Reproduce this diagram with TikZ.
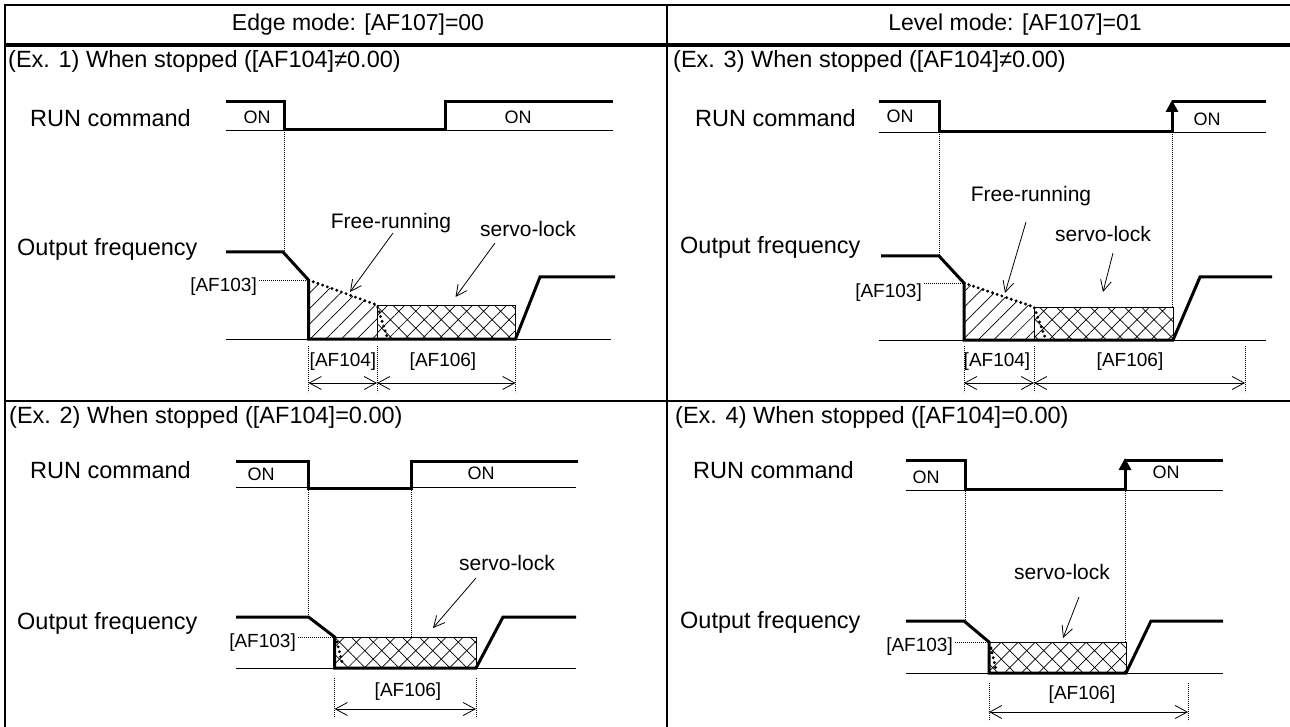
\documentclass[tikz,border=0pt]{standalone}
\usepackage{fontspec}
\setmainfont{Liberation Sans}
\usetikzlibrary{arrows.meta,patterns.meta}
\tikzset{
 lab/.style={font=\fontsize{23.5}{28}\selectfont, inner sep=0pt},
 head/.style={font=\fontsize{23}{27}\selectfont, inner sep=0pt},
 small/.style={font=\fontsize{19}{22}\selectfont, inner sep=0pt},
 onl/.style={font=\fontsize{18}{22}\selectfont, inner sep=0pt},
 mid/.style={font=\fontsize{21}{24}\selectfont, inner sep=0pt},
 sig/.style={line width=3pt, miter limit=4},
 base/.style={line width=0.9pt},
 guide/.style={line width=0.6pt, dash pattern=on 0.8pt off 1.2pt},
 free/.style={line width=3.2pt, dash pattern=on 0pt off 5pt, line cap=round},
 ptr/.style={line width=0.8pt, -{Straight Barb[length=11pt,width=11pt,line width=0.8pt]}},
 dim/.style={line width=0.8pt, {Straight Barb[length=12pt,width=13pt,line width=0.8pt]}-{Straight Barb[length=12pt,width=13pt,line width=0.8pt]}},
 hatchA/.style={pattern={Lines[angle=45,distance=11pt,line width=0.7pt]}},
 hatchX/.style={pattern={Hatch[angle=45,distance=12pt,line width=0.7pt]}},
 up/.style={line width=3pt, -{Triangle[length=12pt,width=12pt]}},
}
\begin{document}
\begin{tikzpicture}[x=1pt,y=-1pt]
\useasboundingbox (0,0) rectangle (1290,727);
% ---------- grid ----------
\draw[line width=2pt] (5,730) -- (5,5) -- (1295,5);
\draw[line width=4pt] (5,45.5) -- (1295,45.5);
\draw[line width=2pt] (667,5) -- (667,730);
\draw[line width=2pt] (5,401) -- (1295,401);
\node[head] (h1) at (358,25) {Edge mode: [AF107]=00};
\node[head] (h2) at (1015,25) {Level mode: [AF107]=01};

% ================= Ex.1 =================
\node[lab,anchor=base west] (t1) at (8,68) {(Ex. 1) When stopped ([AF104]≠0.00)};
\node[lab,anchor=base west] (r1) at (30,127) {RUN command};
\draw[base] (226,130) -- (613,130);
\draw[sig] (226,102) -- (284,102) -- (284,130) -- (445,130) -- (445,102) -- (613,102);
\node[onl] (on1a) at (257,117) {ON};
\node[onl] (on1b) at (518,117) {ON};
\draw[guide] (284,130) -- (284,252);
\node[lab,anchor=base west] (o1) at (17,256) {Output frequency};
\draw[base] (226,339) -- (611,339);
\path[hatchA] (308.5,280) -- (377,305) -- (377,339) -- (308.5,339) -- cycle;
\draw[base,hatchX] (377,305) rectangle (515.5,339);
\draw[free] (308.5,280) -- (377,305) -- (387,337);
\draw[sig] (226,252) -- (283,252) -- (308.5,280) -- (308.5,339) -- (515.5,339) -- (540,277) -- (615,277);
\node[small,anchor=east] (a1) at (257,287) {[AF103]};
\draw[guide] (259,280) -- (308.5,280);
\node[mid] (fr1) at (391,223) {Free-running};
\node[mid] (sv1) at (528,229) {servo-lock};
\draw[ptr] (393,233) -- (350,292);
\draw[ptr] (495,243) -- (455.5,297);
\draw[guide] (308.5,346) -- (308.5,392);
\draw[guide] (377,346) -- (377,392);
\draw[guide] (515.5,346) -- (515.5,392);
\node[small] (d1a) at (343,362) {[AF104]};
\node[small] (d1b) at (443,362) {[AF106]};
\draw[dim] (308.5,383) -- (377,383);
\draw[dim] (377,383) -- (515.5,383);

% ================= Ex.3 =================
\node[lab,anchor=base west] (t3) at (673,68) {(Ex. 3) When stopped ([AF104]≠0.00)};
\node[lab,anchor=base west] (r3) at (695,127) {RUN command};
\draw[base] (879,132) -- (1266,132);
\draw[sig] (879,102) -- (939,102) -- (939,132) -- (1172,132) -- (1172,118);
\draw[up] (1172,121) -- (1172,100);
\draw[sig] (1172,102) -- (1266,102);
\node[onl] (on3a) at (900,116) {ON};
\node[onl] (on3b) at (1207,119) {ON};
\draw[guide] (939,132) -- (939,256);
\draw[guide] (1172,132) -- (1172,307);
\node[lab,anchor=base west] (o3) at (680,254) {Output frequency};
\draw[base] (879,340) -- (1266,340);
\path[hatchA] (964,283) -- (1034,307) -- (1034,340) -- (964,340) -- cycle;
\draw[base,hatchX] (1034,307) rectangle (1173,340);
\draw[free] (964,283) -- (1034,307) -- (1045,337);
\draw[sig] (881,256) -- (939,256) -- (964,283) -- (964,340) -- (1173,340) -- (1200,277) -- (1272,277);
\node[small,anchor=east] (a3) at (922,293) {[AF103]};
\draw[guide] (924,283) -- (964,283);
\node[mid] (fr3) at (1031,196) {Free-running};
\node[mid] (sv3) at (1103,234) {servo-lock};
\draw[ptr] (1026,222) -- (1005,293);
\draw[ptr] (1113,253) -- (1103,292);
\draw[guide] (964,346) -- (964,392);
\draw[guide] (1034,346) -- (1034,392);
\draw[guide] (1245,346) -- (1245,392);
\node[small] (d3a) at (997,362) {[AF104]};
\node[small] (d3b) at (1130,362) {[AF106]};
\draw[dim] (964,383) -- (1034,383);
\draw[dim] (1034,383) -- (1245,383);

% ================= Ex.2 =================
\node[lab,anchor=base west] (t2) at (9,423) {(Ex. 2) When stopped ([AF104]=0.00)};
\node[lab,anchor=base west] (r2) at (30,478) {RUN command};
\draw[base] (236,487) -- (576,487);
\draw[sig] (236,461) -- (308.5,461) -- (308.5,488) -- (411,488) -- (411,461) -- (578,461);
\node[onl] (on2a) at (261,474) {ON};
\node[onl] (on2b) at (481,473) {ON};
\draw[guide] (308.5,488) -- (308.5,617);
\draw[guide] (411,488) -- (411,637);
\node[lab,anchor=base west] (o2) at (17,629) {Output frequency};
\draw[base] (236,668) -- (576,668);
\draw[base,hatchX] (334.6,637) rectangle (476,668);
\draw[free] (337,642) -- (343,666);
\draw[sig] (236,617) -- (308.5,617) -- (334.6,637) -- (334.6,668) -- (476,668) -- (503,617) -- (576,617);
\node[small,anchor=east] (a2) at (296,643) {[AF103]};
\draw[guide] (298,637) -- (334.6,637);
\node[mid] (sv2) at (507,563) {servo-lock};
\draw[ptr] (476,578) -- (433,628);
\draw[guide] (334.6,678) -- (334.6,718);
\draw[guide] (476,678) -- (476,718);
\node[small] (d2) at (408,692) {[AF106]};
\draw[dim] (334.6,709) -- (476,709);

% ================= Ex.4 =================
\node[lab,anchor=base west] (t4) at (675,423) {(Ex. 4) When stopped ([AF104]=0.00)};
\node[lab,anchor=base west] (r4) at (693,478) {RUN command};
\draw[base] (906,490) -- (1223,490);
\draw[sig] (906,460) -- (965,460) -- (965,489) -- (1125,489) -- (1125,476);
\draw[up] (1125,479) -- (1125,458);
\draw[sig] (1125,460) -- (1223,460);
\node[onl] (on4a) at (926,477) {ON};
\node[onl] (on4b) at (1166,472) {ON};
\draw[guide] (965,489) -- (965,621);
\draw[guide] (1125,489) -- (1125,642);
\node[lab,anchor=base west] (o4) at (680,628) {Output frequency};
\draw[base] (906,673) -- (1223,673);
\draw[base,hatchX] (989,642) rectangle (1126,673);
\draw[free] (991,648) -- (996,670);
\draw[sig] (906,621) -- (964,621) -- (989,642) -- (989,673) -- (1126,673) -- (1151,621) -- (1223,621);
\node[small,anchor=east] (a4) at (953,647) {[AF103]};
\draw[guide] (955,642) -- (989,642);
\node[mid] (sv4) at (1062,572) {servo-lock};
\draw[ptr] (1079,597) -- (1063,638);
\draw[guide] (989,683) -- (989,721);
\draw[guide] (1188,683) -- (1188,721);
\node[small] (d4) at (1082,695) {[AF106]};
\draw[dim] (989,712) -- (1188,712);
\end{tikzpicture}
\end{document}
